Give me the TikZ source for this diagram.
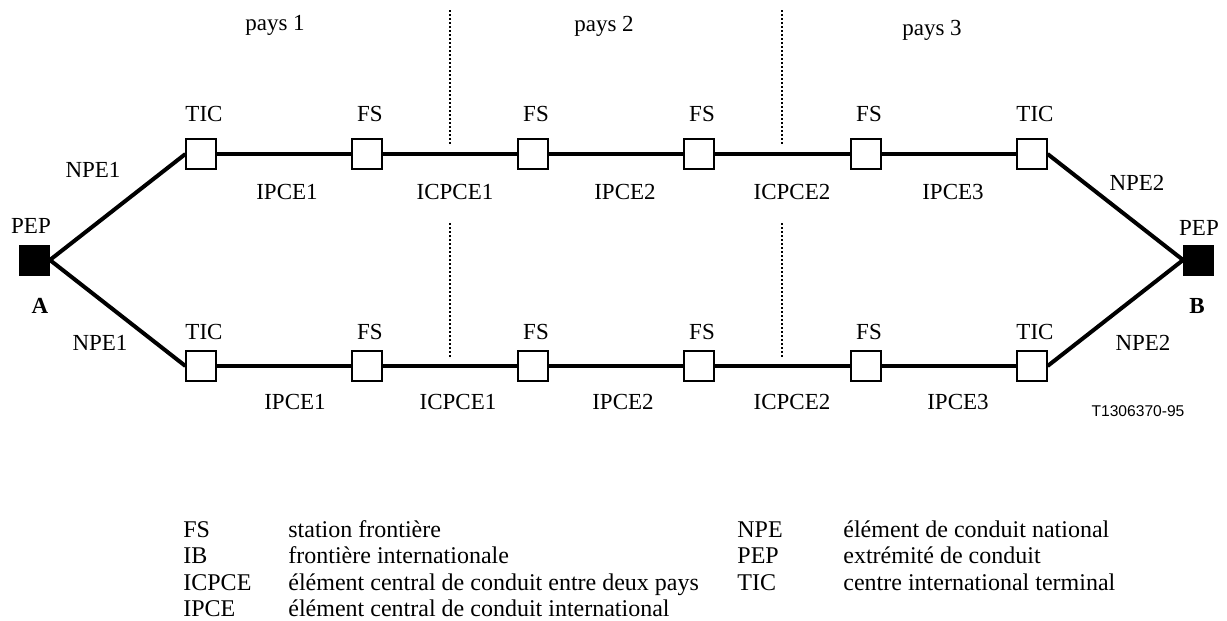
\documentclass[tikz,border=0pt]{standalone}
\usepackage{fontspec}
\setmainfont{Liberation Serif}
\newfontfamily\refsans{Liberation Sans}
\begin{document}
\begin{tikzpicture}[x=0.5pt,y=-0.5pt,
  station/.style={draw,fill=white,line width=0.6pt,minimum size=15pt,inner sep=0pt},
  endpoint/.style={draw,fill=black,minimum size=15pt,inner sep=0pt},
  lbl/.style={anchor=base,inner sep=0pt,font=\fontsize{11.5}{13}\selectfont},
  legend/.style={anchor=base west,inner sep=0pt,font=\fontsize{12}{14}\selectfont},
  conduit/.style={line width=2pt},
  border/.style={dash pattern=on 1pt off 1pt,line width=1.1pt}]
\useasboundingbox (0,0) rectangle (1227,621);

% Country borders
\foreach \x in {450,782} {
  \draw [border] (\x,10) -- (\x,146);
  \draw [border] (\x,223) -- (\x,358);
}
\foreach \x/\y/\lab [count=\k] in {275/31/pays 1,604/32/pays 2,932/35/pays 3}
  \node [lbl] (pays\k) at (\x,\y) {\lab};

% Path end points
\node [endpoint] (pepA) at (34.5,260) {};
\node [endpoint] (pepB) at (1198.5,260) {};
\node [lbl] (pepAlab) at (31,233) {PEP};
\node [lbl] (pepBlab) at (1199,235) {PEP};
\node [lbl] (endA) at (40,313) {\textbf{A}};
\node [lbl] (endB) at (1197,313) {\textbf{B}};

% Stations on the two routes
\foreach \i/\x/\lab in {1/201/TIC,2/367/FS,3/533/FS,4/699/FS,5/866/FS,6/1032/TIC} {
  \node [station] (t\i) at (\x,154) {};
  \node [station] (b\i) at (\x,366) {};
  \node [lbl] (tl\i) at (\x+3,121) {\lab};
  \node [lbl] (bl\i) at (\x+3,339) {\lab};
}

% Conduit sections
\draw [conduit] (pepA.east) -- (t1.west);
\draw [conduit] (pepA.east) -- (b1.west);
\draw [conduit] (t6.east) -- (pepB.west);
\draw [conduit] (b6.east) -- (pepB.west);
\foreach \i [count=\j from 2] in {1,...,5} {
  \draw [conduit] (t\i) -- (t\j);
  \draw [conduit] (b\i) -- (b\j);
}

% Section labels
\node [lbl] (npeA1) at (93,177) {NPE1};
\node [lbl] (npeA2) at (100,350) {NPE1};
\node [lbl] (npeB1) at (1137,190) {NPE2};
\node [lbl] (npeB2) at (1143,350) {NPE2};
\foreach \x/\xx/\lab [count=\k] in {287/295/IPCE1,455/458/ICPCE1,625/623/IPCE2,792/792/ICPCE2,953/958/IPCE3} {
  \node [lbl] (ts\k) at (\x,199) {\lab};
  \node [lbl] (bs\k) at (\xx,409) {\lab};
}
\node [lbl,font=\refsans\fontsize{7.8}{9}\selectfont] (ref) at (1138,416) {T1306370-95};

% Legend
\foreach \lab/\txt [count=\k] in {FS/station frontière,IB/frontière internationale,ICPCE/élément central de conduit entre deux pays,IPCE/élément central de conduit international} {
  \node [legend] (key\k) at (183,510.5+26.5*\k) {\lab};
  \node [legend] (txt\k) at (288,510.5+26.5*\k) {\txt};
}
\foreach \lab/\txt [count=\k] in {NPE/élément de conduit national,PEP/extrémité de conduit,TIC/centre international terminal} {
  \node [legend] (keyr\k) at (737,510.5+26.5*\k) {\lab};
  \node [legend] (txtr\k) at (843,510.5+26.5*\k) {\txt};
}
\end{tikzpicture}
\end{document}
